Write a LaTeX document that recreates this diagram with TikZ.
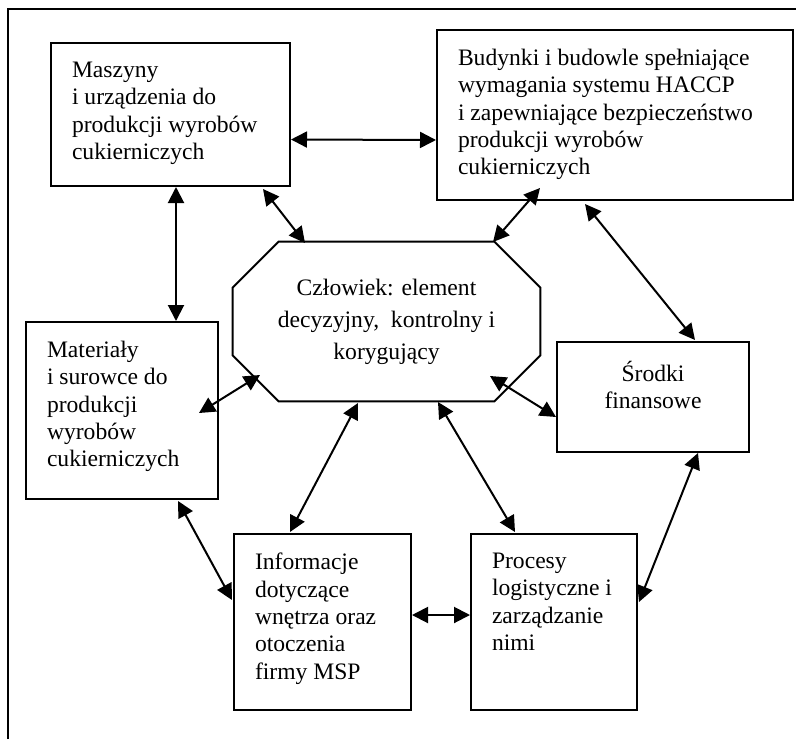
\documentclass[tikz,border=0pt]{standalone}
\usepackage{fontspec}
\setmainfont{Liberation Serif}
\usetikzlibrary{arrows.meta}
\newcommand{\boxtxt}[3]{\parbox[c][#1][t]{#2}{\raggedright #3}}

\begin{document}
\begin{tikzpicture}[x=0.5pt,y=-0.5pt]
		\tikzset{every node/.style={font=\fontsize{11.8pt}{13.7pt}\selectfont}}
		\tikzset{box/.style={draw,line width=1pt,inner xsep=10.5pt,inner ysep=9.5pt}}
		\tikzset{link/.style={{Triangle[length=8pt,width=8pt]}-{Triangle[length=8pt,width=8pt]},line width=1pt}}
		\useasboundingbox (0,0) rectangle (796,739);
		\draw[line width=1pt] (8,739) -- (8,9) -- (796,9);
		\node[box] (masz) at (170.5,114.5) {\boxtxt{52.5pt}{98.5pt}{Maszyny\\i urządzenia do\\produkcji wyrobów\\cukierniczych}};
		\node[box] (bud) at (615,115) {\boxtxt{66pt}{157pt}{Budynki i budowle spełniające\\wymagania systemu HACCP\\i zapewniające bezpieczeństwo\\produkcji wyrobów\\cukierniczych}};
		\node[box] (mat) at (122,410.5) {\boxtxt{69.5pt}{75pt}{Materiały\\i surowce do\\produkcji\\wyrobów\\cukierniczych}};
		\node[box] (srod) at (653,397) {\boxtxt{36pt}{75pt}{\centering Środki\\finansowe}};
		\node[box] (inf) at (322.5,622) {\boxtxt{69pt}{67.5pt}{Informacje\\dotyczące\\wnętrza oraz\\otoczenia\\firmy MSP}};
		\node[box] (proc) at (554,622) {\boxtxt{69pt}{62pt}{Procesy\\logistyczne i\\zarządzanie\\nimi}};
		\node[minimum width=153.5pt,minimum height=79.5pt,inner sep=0pt,align=center,font=\fontsize{11.8pt}{16pt}\selectfont] (czl) at (386.5,321.5) {Człowiek: element\\decyzyjny,~ kontrolny i\\korygujący};
		\draw[line width=1pt] ([xshift=23pt]czl.north west) -- ([xshift=-23pt]czl.north east) -- ([yshift=-23pt]czl.north east)
		   -- ([yshift=23pt]czl.south east) -- ([xshift=-23pt]czl.south east) -- ([xshift=23pt]czl.south west)
		   -- ([yshift=23pt]czl.south west) -- ([yshift=-23pt]czl.north west) -- cycle;
		\draw[link] ([shift={(0,25)}]masz.east) -- ([shift={(0,25)}]bud.west);
		\draw[link] ([shift={(5.5,0)}]masz.south) -- ([shift={(54,0)}]mat.north);
		\draw[link] ([shift={(-28,2)}]masz.south east) -- ([shift={(-81.5,-78.5)}]czl.center);
		\draw[link] ([shift={(-75,-13)}]bud.south) -- ([shift={(106.5,-79.5)}]czl.center);
		\draw[link] ([shift={(-30,3)}]bud.south) -- ([shift={(42,-1)}]srod.north);
		\draw[link] ([shift={(-20,2.5)}]mat.east) -- ([shift={(-126.5,53.5)}]czl.center);
		\draw[link] ([shift={(103.5,54.5)}]czl.center) -- ([shift={(0,20)}]srod.west);
		\draw[link] ([shift={(-28.5,81.5)}]czl.center) -- ([shift={(-32.5,-1)}]inf.north);
		\draw[link] ([shift={(51.5,80.5)}]czl.center) -- ([shift={(-39,-1)}]proc.north);
		\draw[link] ([shift={(56,1)}]mat.south) -- ([shift={(-1,-22)}]inf.west);
		\draw[link] ([shift={(0,-7)}]inf.east) -- ([shift={(0,-7)}]proc.west);
		\draw[link] ([shift={(45,0)}]srod.south) -- ([shift={(1,-20)}]proc.east);
\end{tikzpicture}
\end{document}
